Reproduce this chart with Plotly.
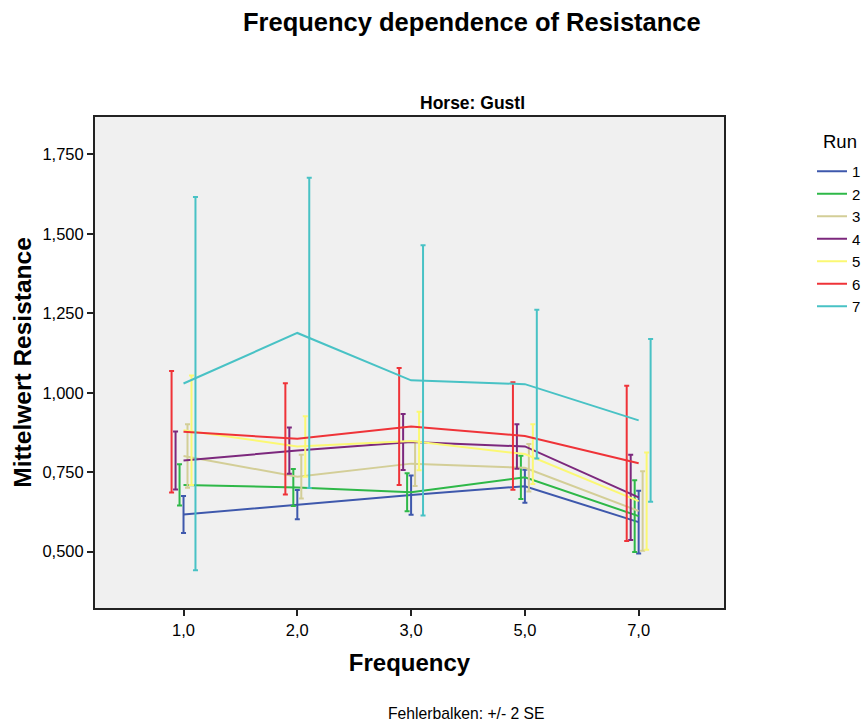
import plotly.graph_objects as go

# Frequency categories (equally spaced on the axis)
freq_labels = ["1,0", "2,0", "3,0", "5,0", "7,0"]
runs = ["1", "2", "3", "4", "5", "6", "7"]

# Mean resistance per run and frequency
mean_r1 = [0.617, 0.648, 0.678, 0.706, 0.593]
mean_r2 = [0.710, 0.702, 0.687, 0.734, 0.612]
mean_r3 = [0.801, 0.736, 0.777, 0.764, 0.628]
mean_r4 = [0.787, 0.818, 0.845, 0.831, 0.671]
mean_r5 = [0.882, 0.831, 0.848, 0.807, 0.659]
mean_r6 = [0.877, 0.855, 0.894, 0.864, 0.778]
mean_r7 = [1.029, 1.188, 1.039, 1.027, 0.913]

# Error bar half-length (2 SE) per run and frequency
err_r1 = [0.058, 0.046, 0.062, 0.052, 0.099]
err_r2 = [0.065, 0.058, 0.060, 0.068, 0.113]
err_r3 = [0.100, 0.069, 0.070, 0.075, 0.125]
err_r4 = [0.091, 0.073, 0.088, 0.070, 0.134]
err_r5 = [0.172, 0.095, 0.092, 0.094, 0.153]
err_r6 = [0.191, 0.175, 0.184, 0.169, 0.244]
err_r7 = [0.587, 0.488, 0.425, 0.234, 0.256]

means = [mean_r1, mean_r2, mean_r3, mean_r4, mean_r5, mean_r6, mean_r7]
errors = [err_r1, err_r2, err_r3, err_r4, err_r5, err_r6, err_r7]
colors = ["#3e58ac", "#2eb848", "#d3ce97", "#7c287d", "#fbf873", "#ef3338", "#48c2c5"]
# horizontal dodge of each run's error bar, in category units
dodge = [0.0, -0.035, 0.035, -0.07, 0.07, -0.105, 0.105]

FONT = "Liberation Sans, Arial, sans-serif"
x_pos = list(range(len(freq_labels)))

fig = go.Figure()

for run, m, e, c, d in zip(runs, means, errors, colors, dodge):
    # error bars (dodged)
    fig.add_trace(go.Scatter(
        x=[x + d for x in x_pos], y=m, mode="markers",
        marker=dict(size=1, color="rgba(0,0,0,0)"),
        error_y=dict(type="data", array=e, visible=True, color=c,
                     thickness=2, width=2.5),
        showlegend=False, hoverinfo="skip",
    ))
    # mean line
    fig.add_trace(go.Scatter(
        x=x_pos, y=m, mode="lines", name=run,
        line=dict(color=c, width=2),
    ))

yticks = [0.5, 0.75, 1.0, 1.25, 1.5, 1.75]
ytext = ["0,500", "0,750", "1,000", "1,250", "1,500", "1,750"]

fig.update_layout(
    width=867, height=726,
    margin=dict(l=95, r=143, t=117, b=118, autoexpand=False),
    paper_bgcolor="white", plot_bgcolor="#f0f0f0",
    font=dict(family=FONT, size=16, color="black"),
    showlegend=True,
    legend=dict(
        xref="container", yref="container",
        x=812 / 867, xanchor="left", y=1 - 155 / 726, yanchor="top",
        font=dict(size=15), itemwidth=30, tracegroupgap=0,
        bgcolor="rgba(0,0,0,0)",
    ),
    xaxis=dict(
        range=[-0.778, 4.75], tickvals=x_pos, ticktext=freq_labels,
        showgrid=False, zeroline=False,
        showline=True, linecolor="#222222", linewidth=2, mirror=True,
        ticks="outside", ticklen=6, tickwidth=2, tickcolor="#222222",
        tickfont=dict(size=16.5),
        title=dict(text="<b>Frequency</b>", font=dict(size=24), standoff=16),
    ),
    yaxis=dict(
        range=[0.3229, 1.8673], tickvals=yticks, ticktext=ytext,
        showgrid=False, zeroline=False,
        showline=True, linecolor="#222222", linewidth=2, mirror=True,
        ticks="outside", ticklen=6, tickwidth=2, tickcolor="#222222",
        tickfont=dict(size=16.5),
        title=dict(text="<b>Mittelwert Resistance</b>", font=dict(size=24.5), standoff=4),
    ),
    annotations=[
        dict(text="<b>Frequency dependence of Resistance</b>",
             xref="paper", yref="paper", x=(472 - 95) / 629, y=1 + (117 - 22) / 491,
             xanchor="center", yanchor="middle", showarrow=False,
             font=dict(size=25.5)),
        dict(text="<b>Horse: Gustl</b>",
             xref="paper", yref="paper", x=(472 - 95) / 629, y=1 + (117 - 103) / 491,
             xanchor="center", yanchor="middle", showarrow=False,
             font=dict(size=17.5)),
        dict(text="Fehlerbalken: +/- 2 SE",
             xref="paper", yref="paper", x=(466 - 95) / 629, y=-(713 - 608) / 491,
             xanchor="center", yanchor="middle", showarrow=False,
             font=dict(size=15.7)),
        # legend heading
        dict(text="Run",
             xref="paper", yref="paper", x=(840 - 95) / 629, y=1 + (117 - 141) / 491,
             xanchor="center", yanchor="middle", showarrow=False,
             font=dict(size=18.5)),
    ],
)

fig.write_html("out.html")
